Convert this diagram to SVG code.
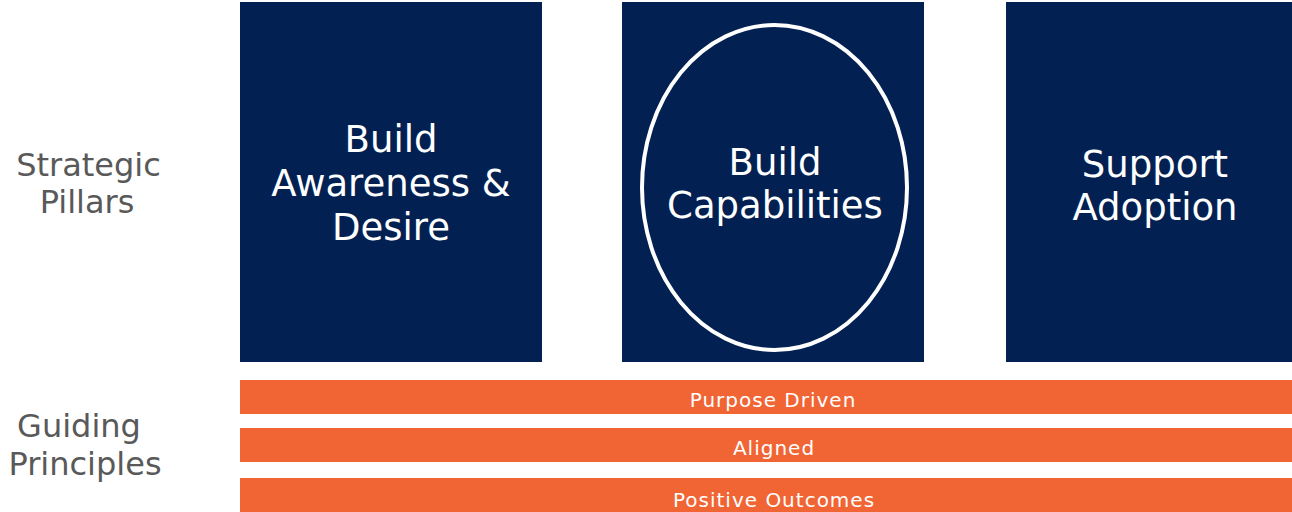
<svg xmlns="http://www.w3.org/2000/svg" width="1292" height="512" viewBox="0 0 1292 512">
<style>
.pillar{fill:#022152}
.bar{fill:#F16434}
.lbl{font-family:"DejaVu Sans",Verdana,sans-serif;font-size:32px;fill:#595959;text-anchor:middle}
.pt{font-family:"DejaVu Sans",Verdana,sans-serif;font-size:37px;fill:#ffffff;text-anchor:middle}
.bt{font-family:"DejaVu Sans",Verdana,sans-serif;font-size:20px;fill:#ffffff;text-anchor:middle;letter-spacing:1px}
</style>
<rect width="1292" height="512" fill="#ffffff"/>
<g id="label-strategic">
<text class="lbl" x="88.5" y="176">Strategic</text>
<text class="lbl" x="87" y="213">Pillars</text>
</g>
<g id="label-guiding">
<text class="lbl" x="79" y="437">Guiding</text>
<text class="lbl" x="85" y="475">Principles</text>
</g>
<g id="pillar-awareness">
<rect class="pillar" x="240" y="2" width="302" height="360"/>
<text class="pt" x="391" y="152">Build</text>
<text class="pt" x="391" y="196">Awareness &amp;</text>
<text class="pt" x="391" y="240">Desire</text>
</g>
<g id="pillar-capabilities">
<rect class="pillar" x="622" y="2" width="302" height="360"/>
<ellipse cx="774.5" cy="187.5" rx="132.5" ry="162.5" fill="none" stroke="#ffffff" stroke-width="4"/>
<text class="pt" x="775" y="175">Build</text>
<text class="pt" x="775" y="218">Capabilities</text>
</g>
<g id="pillar-adoption">
<rect class="pillar" x="1006" y="2" width="286" height="360"/>
<text class="pt" x="1155" y="177">Support</text>
<text class="pt" x="1155" y="220">Adoption</text>
</g>
<g id="principle-purpose">
<rect class="bar" x="240" y="380" width="1052" height="34"/>
<text class="bt" x="773" y="407">Purpose Driven</text>
</g>
<g id="principle-aligned">
<rect class="bar" x="240" y="428" width="1052" height="34"/>
<text class="bt" x="774" y="455">Aligned</text>
</g>
<g id="principle-outcomes">
<rect class="bar" x="240" y="478" width="1052" height="34"/>
<text class="bt" x="774" y="507">Positive Outcomes</text>
</g>
<g id="connectors"/>
</svg>
